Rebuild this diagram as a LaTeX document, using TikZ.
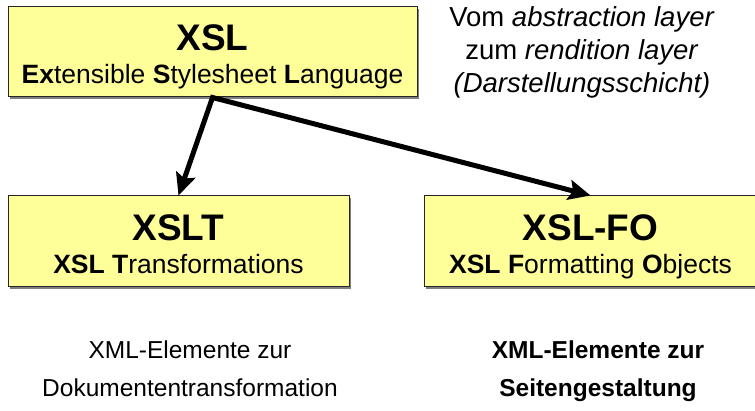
\documentclass[tikz,border=0pt]{standalone}
\usepackage{fontspec}
\setmainfont{Liberation Sans}
\usetikzlibrary{arrows.meta,shadows}
\definecolor{boxyellow}{HTML}{FFFF99}
\tikzset{
  box/.style={draw=black!85, line width=1pt, fill=boxyellow, inner sep=0pt,
    text height=74pt, text depth=10pt, align=center,
    font=\fontsize{26.5}{33}\selectfont,
    drop shadow={shadow xshift=2pt, shadow yshift=-2pt, opacity=1, fill=black!50}},
  link/.style={line width=5pt, miter limit=20,
    {Stealth[length=22pt,width=20pt,inset=4pt]}-{Stealth[length=22pt,width=20pt,inset=4pt]}},
  note/.style={align=center, inner sep=0pt, anchor=base, font=\fontsize{24.5}{39}\selectfont},
}
\newcommand{\boxtitle}[1]{{\fontsize{37}{33}\selectfont\bfseries #1}}
\begin{document}
\begin{tikzpicture}[x=1pt,y=-1pt]
\useasboundingbox (0,0) rectangle (755,411);
% the three boxes
\node[box, minimum width=409pt, minimum height=90pt] (xsl) at (212.5,52)
  {\boxtitle{XSL}\\\textbf{Ex}tensible \textbf{S}tylesheet \textbf{L}anguage};
\node[box, minimum width=341pt, minimum height=91pt] (xslt) at (178.5,241.5)
  {\boxtitle{XSLT}\\\textbf{XSL T}ransformations};
\node[box, minimum width=333pt, minimum height=91pt] (xslfo) at (590.5,241.5)
  {\boxtitle{XSL-FO}\\\textbf{XSL F}ormatting \textbf{O}bjects};
% arrows
\draw[link] (xslt.north) -- (xsl.south) -- (xslfo.north);
% texts (anchored at the last line)
\node[note, font=\fontsize{27.5}{33}\selectfont] (layer) at (582,93)
  {Vom \textit{abstraction layer}\\zum \textit{rendition layer}\\\textit{(Darstellungsschicht)}};
\node[note] (trafo) at (190,397) {XML-Elemente zur\\Dokumententransformation};
\node[note, font=\fontsize{24.5}{39}\selectfont\bfseries] (seite) at (598,397)
  {XML-Elemente zur\\Seitengestaltung};
\end{tikzpicture}
\end{document}
